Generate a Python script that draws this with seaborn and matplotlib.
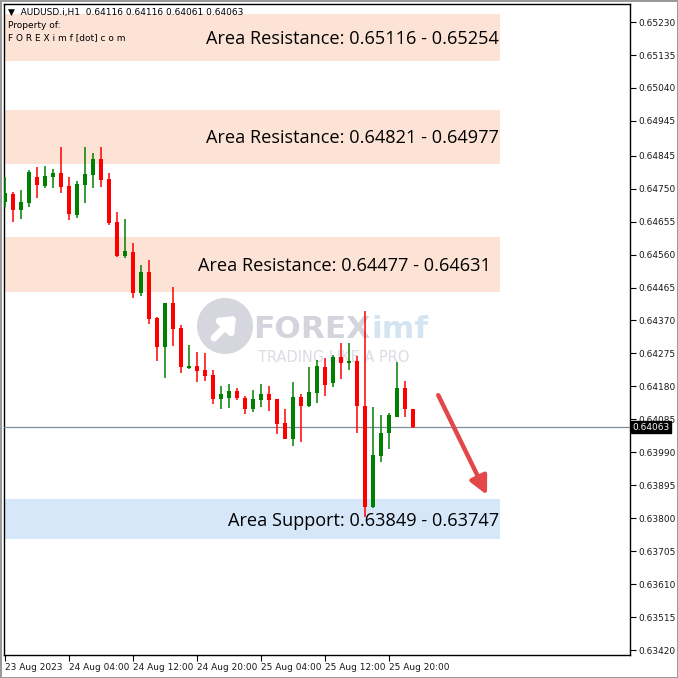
import matplotlib
matplotlib.use("Agg")
import matplotlib.pyplot as plt
import seaborn as sns
from matplotlib.patches import Ellipse

# Hourly candles, AUDUSD.i H1 (23 Aug 20:00 .. 25 Aug 23:00)
open_ = [0.64711, 0.64734, 0.64688, 0.64708, 0.64783, 0.64757, 0.64783, 0.64795,
         0.64757, 0.64674, 0.64760, 0.64789, 0.64835, 0.64778, 0.64654, 0.64556,
         0.64567, 0.64449, 0.64510, 0.64377, 0.64293, 0.64420, 0.64348, 0.64233,
         0.64239, 0.64227, 0.64213, 0.64144, 0.64146, 0.64167, 0.64146, 0.64115,
         0.64141, 0.64158, 0.64144, 0.64074, 0.64028, 0.64149, 0.64123, 0.64161,
         0.64236, 0.64190, 0.64264, 0.64247, 0.64253, 0.64123, 0.63832, 0.63979,
         0.64046, 0.64092, 0.64175, 0.64116]
high = [0.64783, 0.64740, 0.64746, 0.64803, 0.64812, 0.64815, 0.64806, 0.64870,
        0.64783, 0.64772, 0.64870, 0.64852, 0.64870, 0.64795, 0.64682, 0.64662,
        0.64593, 0.64530, 0.64544, 0.64380, 0.64420, 0.64466, 0.64357, 0.64299,
        0.64279, 0.64276, 0.64227, 0.64181, 0.64187, 0.64175, 0.64152, 0.64169,
        0.64187, 0.64181, 0.64144, 0.64115, 0.64192, 0.64158, 0.64236, 0.64256,
        0.64262, 0.64270, 0.64305, 0.64305, 0.64267, 0.64397, 0.64120, 0.64097,
        0.64103, 0.64250, 0.64195, 0.64116]
low = [0.64697, 0.64654, 0.64662, 0.64697, 0.64723, 0.64752, 0.64752, 0.64737,
       0.64659, 0.64665, 0.64708, 0.64752, 0.64754, 0.64645, 0.64553, 0.64550,
       0.64435, 0.64440, 0.64360, 0.64253, 0.64204, 0.64296, 0.64218, 0.64230,
       0.64192, 0.64195, 0.64129, 0.64115, 0.64118, 0.64141, 0.64100, 0.64106,
       0.64120, 0.64109, 0.64043, 0.64028, 0.64008, 0.64020, 0.64120, 0.64132,
       0.64152, 0.64178, 0.64201, 0.64227, 0.64046, 0.63803, 0.63829, 0.63962,
       0.63999, 0.64092, 0.64092, 0.64061]
close = [0.64737, 0.64688, 0.64711, 0.64798, 0.64760, 0.64786, 0.64795, 0.64754,
         0.64677, 0.64763, 0.64792, 0.64835, 0.64775, 0.64651, 0.64556, 0.64570,
         0.64449, 0.64510, 0.64374, 0.64293, 0.64420, 0.64345, 0.64236, 0.64239,
         0.64224, 0.64210, 0.64144, 0.64158, 0.64167, 0.64146, 0.64115, 0.64144,
         0.64158, 0.64141, 0.64071, 0.64028, 0.64149, 0.64123, 0.64164, 0.64239,
         0.64184, 0.64264, 0.64247, 0.64253, 0.64123, 0.63832, 0.63982, 0.64046,
         0.64097, 0.64175, 0.64115, 0.64063]

last_price = 0.64063

# zones: (bottom, top) as drawn, plus their labels
zone_low = [0.65118, 0.64821, 0.64452, 0.63740]
zone_high = [0.65253, 0.64977, 0.64610, 0.63855]
zone_kind = ["res", "res", "res", "sup"]
zone_text = ["Area Resistance: 0.65116 - 0.65254",
             "Area Resistance: 0.64821 - 0.64977",
             "Area Resistance: 0.64477 - 0.64631",
             "Area Support: 0.63849 - 0.63747"]
zone_text_x = [61.75, 61.75, 60.75, 61.75]

y_ticks = [0.65230, 0.65135, 0.65040, 0.64945, 0.64845, 0.64750, 0.64655,
           0.64560, 0.64465, 0.64370, 0.64275, 0.64180, 0.64085, 0.63990,
           0.63895, 0.63800, 0.63705, 0.63610, 0.63515, 0.63420]
x_tick_pos = [0, 8, 16, 24, 32, 40, 48]
x_tick_labels = ["23 Aug 2023", "24 Aug 04:00", "24 Aug 12:00", "24 Aug 20:00",
                 "25 Aug 04:00", "25 Aug 12:00", "25 Aug 20:00"]

UP = "#008000"
DOWN = "#ff0000"
RES_COLOR = "#fde2d6"
SUP_COLOR = "#d5e7f8"

sns.set_theme(style="white")
plt.rcParams["font.family"] = ["DejaVu Sans"]

W = 678
fig = plt.figure(figsize=(6.78, 6.78), dpi=100)
fig.patch.set_facecolor("white")
ax = fig.add_axes([4 / W, 23 / W, 626 / W, 651 / W])
ax.set_xlim(-0.125, 78.125)
ax.set_ylim(0.63406, 0.65282)

# zones
for lo, hi, kind, txt, tx in zip(zone_low, zone_high, zone_kind, zone_text, zone_text_x):
    col = RES_COLOR if kind == "res" else SUP_COLOR
    ax.fill_between([-0.125, 61.9], lo, hi, color=col, lw=0, zorder=1)
    ax.text(tx, (lo + hi) / 2 - 0.00004, txt, ha="right", va="center",
            fontsize=13.1, family="Open Sans", color="black", zorder=6)

# watermark
def ax_pt(px, py):
    return ((px - 4) / 626, (655 - py) / 651)

cx, cy = ax_pt(225, 326)
ax.add_patch(Ellipse((cx, cy), 56 / 626, 56 / 651, transform=ax.transAxes,
                     color="#d6d6de", lw=0, zorder=2))
ax.annotate("", xy=ax_pt(238, 314), xytext=ax_pt(212, 340),
            xycoords="axes fraction", textcoords="axes fraction",
            arrowprops=dict(arrowstyle="-|>,head_width=0.5,head_length=0.6",
                            color="white", lw=5), zorder=2)
ax.text(*ax_pt(253, 330), "FOREX", transform=ax.transAxes, fontsize=22.5,
        fontweight="bold", color="#d3d4dc", ha="left", va="center", zorder=2)
ax.text(*ax_pt(371, 330), "imf", transform=ax.transAxes, fontsize=22.5,
        fontweight="bold", color="#d4e4f1", ha="left", va="center", zorder=2)
ax.text(*ax_pt(258, 358), "TRADING LIKE A PRO", transform=ax.transAxes,
        fontsize=10.5, color="#dcdce2", ha="left", va="center", zorder=2)

# last price line
ax.axhline(last_price, color="#7f8c99", lw=0.9, zorder=3)

# candles
xs = list(range(len(open_)))
colors = [UP if c >= o else DOWN for o, c in zip(open_, close)]
ax.vlines(xs, low, high, colors=colors, lw=1.1, zorder=4)
bottoms = [min(o, c) for o, c in zip(open_, close)]
heights = [max(abs(c - o), 0.000025) for o, c in zip(open_, close)]
ax.bar(xs, heights, bottom=bottoms, width=0.62, color=colors, lw=0, zorder=5)

# forecast arrow
ax.annotate("", xy=(60.4, 0.63860), xytext=(54.0, 0.64162),
            arrowprops=dict(arrowstyle="-|>,head_width=0.45,head_length=0.9",
                            color="#e3474a", lw=3.2), zorder=7)

# axes styling
for s in ax.spines.values():
    s.set_visible(True)
    s.set_color("black")
    s.set_linewidth(1.0)
ax.yaxis.tick_right()
ax.set_yticks(y_ticks)
ax.set_yticklabels([f"{v:.5f}" for v in y_ticks])
ax.set_xticks(x_tick_pos)
ax.set_xticklabels(x_tick_labels, ha="left")
ax.tick_params(axis="both", direction="out", length=4, width=0.8, color="black",
               labelsize=6.5, labelcolor="#1a1a1a", pad=2)
ax.tick_params(axis="y", right=True, left=False, labelright=True, labelleft=False)
ax.tick_params(axis="x", bottom=True)
ax.grid(False)

ax.text(1.004, last_price, f"{last_price:.5f}", transform=ax.get_yaxis_transform(),
        ha="left", va="center", fontsize=6.5, color="white", zorder=10, clip_on=False,
        bbox=dict(boxstyle="square,pad=0.15", fc="black", ec="black"))

# header
fig.text(8 / W, 1 - 12 / W, "\u25bc  AUDUSD.i,H1  0.64116 0.64116 0.64061 0.64063",
         fontsize=6.5, va="center", ha="left", color="black")
fig.text(8 / W, 1 - 26 / W, "Property of:", fontsize=6.5, va="center", color="black")
fig.text(8 / W, 1 - 38 / W, "F O R E X i m f [dot] c o m", fontsize=6.5,
         va="center", color="black")

# window frame
fig.patch.set_edgecolor("#9a9a9a")
fig.patch.set_linewidth(1.8)

fig.savefig("out.png", dpi=100, facecolor=fig.get_facecolor(),
            edgecolor=fig.get_edgecolor())
